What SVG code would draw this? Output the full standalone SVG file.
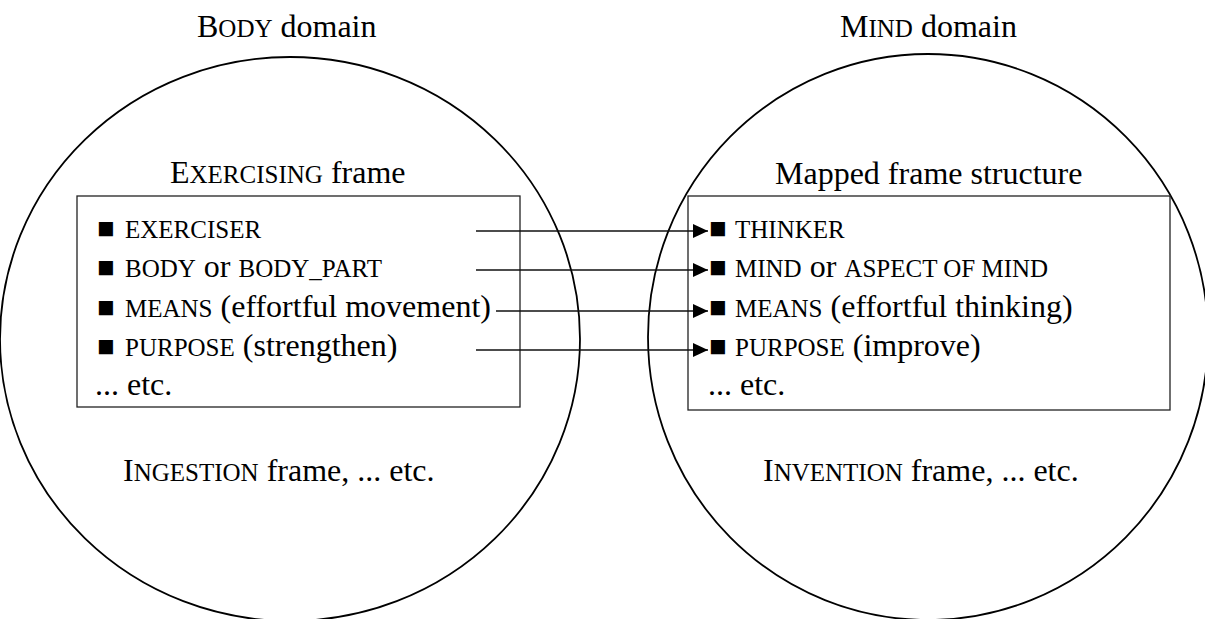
<svg xmlns="http://www.w3.org/2000/svg" width="1205" height="619" viewBox="0 0 1205 619">
  <style>
    text { font-family: "Liberation Serif", "Times New Roman", serif; font-size: 32px; fill: #000; }
    .sc { font-size: 25px; }
    .bullet { font-size: 29px; }
    .domain { fill: none; stroke: #000; stroke-width: 1.8; }
    .frame { fill: none; stroke: #222; stroke-width: 1.3; }
    .link { fill: none; stroke: #111; stroke-width: 1.3; marker-end: url(#arrow); }
  </style>
  <defs>
    <marker id="arrow" markerWidth="15" markerHeight="14" refX="15" refY="7" orient="auto" markerUnits="userSpaceOnUse">
      <path d="M0,0 L15,7 L0,14 Z" fill="#000"/>
    </marker>
  </defs>

  <rect width="1205" height="619" fill="#fff"/>

  <!-- Source domain -->
  <g id="body-domain">
    <ellipse class="domain" cx="290" cy="339" rx="290" ry="282"/>
    <text x="197" y="37">B<tspan class="sc">ODY</tspan> domain</text>
    <text x="123" y="481">I<tspan class="sc">NGESTION</tspan> frame, ... etc.</text>
  </g>

  <!-- Target domain -->
  <g id="mind-domain">
    <ellipse class="domain" cx="928" cy="337" rx="280" ry="283"/>
    <text x="840" y="37">M<tspan class="sc">IND</tspan> domain</text>
    <text x="763" y="481">I<tspan class="sc">NVENTION</tspan> frame, ... etc.</text>
  </g>

  <!-- Exercising frame -->
  <g id="exercising-frame">
    <text x="170" y="183">E<tspan class="sc">XERCISING</tspan> frame</text>
    <rect class="frame" x="77" y="196" width="443" height="211"/>
    <text y="238"><tspan class="bullet" x="97">■</tspan><tspan class="sc" x="125">EXERCISER</tspan></text>
    <text y="277"><tspan class="bullet" x="97">■</tspan><tspan class="sc" x="125">BODY</tspan> or <tspan class="sc">BODY_PART</tspan></text>
    <text y="317"><tspan class="bullet" x="97">■</tspan><tspan class="sc" x="125">MEANS</tspan> (effortful movement)</text>
    <text y="356"><tspan class="bullet" x="97">■</tspan><tspan class="sc" x="125">PURPOSE</tspan> (strengthen)</text>
    <text x="95" y="395">... etc.</text>
  </g>

  <!-- Mapped frame -->
  <g id="mapped-frame">
    <text x="775" y="184">Mapped frame structure</text>
    <rect class="frame" x="688" y="196" width="482" height="214"/>
    <text y="238"><tspan class="bullet" x="709">■</tspan><tspan class="sc" x="735">THINKER</tspan></text>
    <text y="277"><tspan class="bullet" x="709">■</tspan><tspan class="sc" x="735">MIND</tspan> or <tspan class="sc">ASPECT OF MIND</tspan></text>
    <text y="317"><tspan class="bullet" x="709">■</tspan><tspan class="sc" x="735">MEANS</tspan> (effortful thinking)</text>
    <text y="356"><tspan class="bullet" x="709">■</tspan><tspan class="sc" x="735">PURPOSE</tspan> (improve)</text>
    <text x="708" y="395">... etc.</text>
  </g>

  <!-- Role mappings -->
  <g id="connectors">
    <line class="link" x1="476" y1="231" x2="708" y2="231"/>
    <line class="link" x1="476" y1="270" x2="708" y2="270"/>
    <line class="link" x1="496" y1="311" x2="708" y2="311"/>
    <line class="link" x1="476" y1="350" x2="708" y2="350"/>
  </g>
</svg>
